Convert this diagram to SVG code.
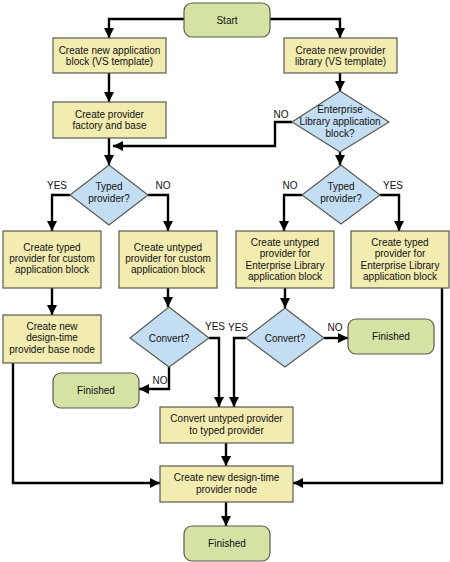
<svg xmlns="http://www.w3.org/2000/svg" width="450" height="562" viewBox="0 0 450 562">
<style>
.box{fill:#f3ecb1;stroke:#5a5a50;stroke-width:1.2}
.term{fill:#d4e2a4;stroke:#5a5a50;stroke-width:1.2}
.dec{fill:#c3ddf2;stroke:#5a5a50;stroke-width:1.2}
text{font-family:"Liberation Sans",Arial,sans-serif;font-size:10px;fill:#111;text-anchor:middle}
.lbl{text-anchor:middle}
.c{fill:none;stroke:#000;stroke-width:2.4;marker-end:url(#ah)}
.cn{fill:none;stroke:#000;stroke-width:2.4}
</style>
<defs>
<marker id="ah" markerUnits="userSpaceOnUse" markerWidth="10" markerHeight="10" viewBox="0 0 10 10" refX="10" refY="5" orient="auto">
<path d="M0,0 L10,5 L0,10 z" fill="#000"/>
</marker>
</defs>
<rect width="450" height="562" fill="#fff"/>
<g id="connectors">
<path class="c" d="M184,19 H109 V38"/>
<path class="c" d="M270,19 H340 V38"/>
<path class="c" d="M109,73 V102"/>
<path class="c" d="M340,73 V91"/>
<path class="c" d="M292,122 H275 V146 H113"/>
<path class="c" d="M109,138 V165"/>
<path class="c" d="M340,152 V165"/>
<path class="c" d="M70,195 H52 V231"/>
<path class="c" d="M148,195 H168 V231"/>
<path class="c" d="M302,195 H284 V231"/>
<path class="c" d="M380,195 H399 V231"/>
<path class="c" d="M52,288 V315"/>
<path class="c" d="M168,288 V307"/>
<path class="c" d="M285,288 V308"/>
<path class="c" d="M209,338 H219 V407"/>
<path class="c" d="M169,367 V389 H139"/>
<path class="c" d="M246,338 H234 V407"/>
<path class="c" d="M324,338 H348"/>
<path class="c" d="M226,443 V466"/>
<path class="c" d="M13,363 V483 H160"/>
<path class="c" d="M442,288 V483 H293"/>
<path class="c" d="M226,502 V526"/>
<text x="281" y="118">NO</text>
<text x="57" y="189">YES</text>
<text x="163" y="189">NO</text>
<text x="290" y="189">NO</text>
<text x="393" y="189">YES</text>
<text x="215" y="330">YES</text>
<text x="160" y="384">NO</text>
<text x="238" y="331">YES</text>
<text x="335" y="331">NO</text>
</g>
<g id="start">
<rect class="term" x="184" y="3" width="86" height="34" rx="8"/>
<text x="227" y="23.5">Start</text>
</g>
<g id="newAppBlock">
<rect class="box" x="53" y="38" width="113" height="35"/>
<text x="109.5" y="54">Create new application</text>
<text x="109.5" y="65">block (VS template)</text>
</g>
<g id="newProviderLib">
<rect class="box" x="284" y="38" width="113" height="35"/>
<text x="340.5" y="54">Create new provider</text>
<text x="340.5" y="65">library (VS template)</text>
</g>
<g id="factoryBase">
<rect class="box" x="53" y="102" width="113" height="36"/>
<text x="109.5" y="118">Create provider</text>
<text x="109.5" y="129">factory and base</text>
</g>
<g id="entLibDecision">
<polygon class="dec" points="340,91 389,122 340,152 292,122"/>
<text x="340" y="113">Enterprise</text>
<text x="340" y="125">Library application</text>
<text x="340" y="137">block?</text>
</g>
<g id="typedLeft">
<polygon class="dec" points="109,165 148,195 109,225 70,195"/>
<text x="109" y="190">Typed</text>
<text x="109" y="202">provider?</text>
</g>
<g id="typedRight">
<polygon class="dec" points="341,165 380,195 341,224 302,195"/>
<text x="341" y="190">Typed</text>
<text x="341" y="202">provider?</text>
</g>
<g id="typedCustom">
<rect class="box" x="3" y="231" width="98" height="57"/>
<text x="52" y="251">Create typed</text>
<text x="52" y="262">provider for custom</text>
<text x="52" y="273">application block</text>
</g>
<g id="untypedCustom">
<rect class="box" x="119" y="231" width="98" height="57"/>
<text x="168" y="251">Create untyped</text>
<text x="168" y="262">provider for custom</text>
<text x="168" y="273">application block</text>
</g>
<g id="untypedEnt">
<rect class="box" x="236" y="231" width="98" height="57"/>
<text x="285" y="246">Create untyped</text>
<text x="285" y="257">provider for</text>
<text x="285" y="269">Enterprise Library</text>
<text x="285" y="280">application block</text>
</g>
<g id="typedEnt">
<rect class="box" x="351" y="231" width="98" height="57"/>
<text x="400" y="246">Create typed</text>
<text x="400" y="257">provider for</text>
<text x="400" y="269">Enterprise Library</text>
<text x="400" y="280">application block</text>
</g>
<g id="baseNode">
<rect class="box" x="3" y="315" width="98" height="48"/>
<text x="52" y="330">Create new</text>
<text x="52" y="341">design-time</text>
<text x="52" y="353">provider base node</text>
</g>
<g id="convertLeft">
<polygon class="dec" points="169,307 209,338 169,367 130,338"/>
<text x="169" y="341.5">Convert?</text>
</g>
<g id="convertRight">
<polygon class="dec" points="285,308 324,338 285,367 246,338"/>
<text x="285" y="341.5">Convert?</text>
</g>
<g id="finishedLeft">
<rect class="term" x="53" y="373" width="86" height="35" rx="8"/>
<text x="96" y="394">Finished</text>
</g>
<g id="finishedRight">
<rect class="term" x="348" y="319" width="86" height="35" rx="8"/>
<text x="391" y="340">Finished</text>
</g>
<g id="convertBox">
<rect class="box" x="160" y="407" width="133" height="36"/>
<text x="226.5" y="422">Convert untyped provider</text>
<text x="226.5" y="434">to typed provider</text>
</g>
<g id="providerNode">
<rect class="box" x="160" y="466" width="133" height="36"/>
<text x="226.5" y="481">Create new design-time</text>
<text x="226.5" y="493">provider node</text>
</g>
<g id="finishedEnd">
<rect class="term" x="184" y="526" width="86" height="35" rx="8"/>
<text x="227" y="547">Finished</text>
</g>
</svg>
